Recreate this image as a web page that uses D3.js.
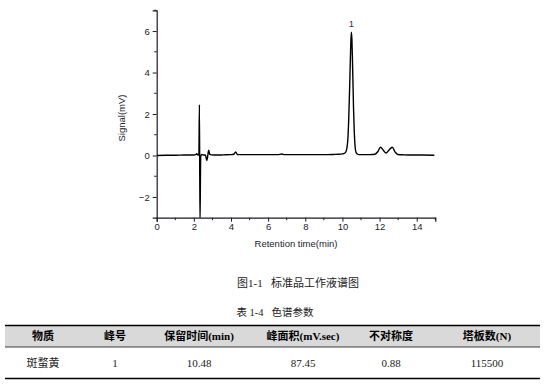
<!DOCTYPE html>
<html><head><meta charset="utf-8">
<script src="https://cdn.jsdelivr.net/npm/d3@7"></script>
<style>
html,body{margin:0;padding:0;background:#fff;}
svg{display:block;}
</style></head>
<body>
<svg id="c" width="545" height="385"></svg>
<script>
// ---- data ----
const times   = [0.0,0.5,1.0,1.5,2.0,2.10,2.15,2.20,2.27,2.30,2.33,2.37,2.42,2.50,2.62,2.70,2.75,2.80,2.86,2.95,3.2,3.6,4.0,4.15,4.25,4.35,4.5,5.0,5.5,6.0,6.5,6.75,6.85,7.2,7.8,8.5,9.0,9.5,9.8,10.0,10.10,10.18,10.25,10.30,10.34,10.38,10.42,10.45,10.48,10.51,10.54,10.57,10.60,10.64,10.68,10.73,10.80,10.90,11.0,11.5,11.75,11.9,12.05,12.2,12.35,12.5,12.68,12.85,12.98,13.3,13.8,14.3,14.95];
const signals = [0.00,0.01,0.01,0.02,0.02,0.04,0.08,0.04,0.02,2.45,-3.3,-0.05,0.05,0.02,0.02,-0.24,0.00,0.26,0.05,0.03,0.02,0.03,0.04,0.06,0.17,0.05,0.04,0.04,0.04,0.04,0.04,0.07,0.04,0.04,0.04,0.04,0.04,0.05,0.06,0.08,0.10,0.17,0.40,0.90,1.80,3.00,4.40,5.40,5.95,5.60,4.60,3.40,2.20,1.10,0.45,0.15,0.07,0.04,0.04,0.04,0.06,0.18,0.40,0.25,0.12,0.25,0.40,0.15,0.05,0.03,0.02,0.02,0.01];
const xTicks = [0,2,4,6,8,10,12,14];
const xMinor = [1,3,5,7,9,11,13,15];
const yTicks = [-2,0,2,4,6];
const yMinor = [-1,1,3,5,7];
const peakLabels = [{t:10.48, v:5.95, label:"1"}];
const xTitle = "Retention time(min)";
const yTitle = "Signal(mV)";
const figCaption = "图1-1\u00a0\u00a0\u00a0标准品工作液谱图";
const tableTitle = "表 1-4\u00a0\u00a0\u00a0色谱参数";
const tableHeaders = ["物质","峰号","保留时间(min)","峰面积(mV.sec)","不对称度","塔板数(N)"];
const tableRow = ["斑蝥黄","1","10.48","87.45","0.88","115500"];

// ---- layout ----
const svg = d3.select("#c");
svg.append("rect").attr("width",545).attr("height",385).attr("fill","#fff");
const L=156.7, R=435.3, T=10.3, B=217.7;
const x = d3.scaleLinear().domain([0,15]).range([L,R]);
const y = d3.scaleLinear().domain([-3,7]).range([B,T]);
const tickFont = "Liberation Sans, Arial, sans-serif";
const ink = "#1b1b2b";

svg.append("clipPath").attr("id","pc").append("rect")
  .attr("x",L).attr("y",T).attr("width",R-L).attr("height",B-T);

// x axis
const gx = svg.append("g").attr("transform",`translate(0,${B})`)
  .call(d3.axisBottom(x).tickValues(xTicks).tickFormat(d3.format("d")).tickSize(4).tickPadding(2));
gx.append("g").selectAll("line").data(xMinor).join("line")
  .attr("x1",d=>x(d)).attr("x2",d=>x(d)).attr("y1",0).attr("y2",2.5).attr("stroke",ink);
// y axis
const gy = svg.append("g").attr("transform",`translate(${L},0)`)
  .call(d3.axisLeft(y).tickValues(yTicks).tickFormat(d3.format("d")).tickSize(4).tickPadding(3));
gy.append("g").selectAll("line").data(yMinor).join("line")
  .attr("y1",d=>y(d)).attr("y2",d=>y(d)).attr("x1",0).attr("x2",-2.5).attr("stroke",ink);
[gx,gy].forEach(g=>{
  g.select(".domain").attr("stroke",ink).attr("stroke-width",1.2);
  g.selectAll(".tick line").attr("stroke",ink);
  g.selectAll("text").attr("font-family",tickFont).attr("font-size",9.5).attr("fill",ink);
});

// titles
svg.append("text").attr("x",(L+R)/2).attr("y",247).attr("text-anchor","middle")
  .attr("font-family",tickFont).attr("font-size",9.5).attr("fill",ink).text(xTitle);
svg.append("text").attr("transform",`translate(125,${(T+B)/2+4}) rotate(-90)`).attr("text-anchor","middle")
  .attr("font-family",tickFont).attr("font-size",9.5).attr("fill",ink).text(yTitle);

// line
const pts = times.map((t,i)=>[t,signals[i]]);
svg.append("path").datum(pts).attr("clip-path","url(#pc)")
  .attr("fill","none").attr("stroke","#000").attr("stroke-width",1.4).attr("stroke-linejoin","round")
  .attr("d", d3.line().x(d=>x(d[0])).y(d=>y(d[1])).curve(d3.curveMonotoneX));

// peak label
svg.selectAll(".pl").data(peakLabels).join("text")
  .attr("x",d=>x(d.t)).attr("y",d=>y(d.v)-5).attr("text-anchor","middle")
  .attr("font-family",tickFont).attr("font-size",9.5).attr("fill","#3a2d4d").text(d=>d.label);

// caption
const serif = "Liberation Serif, 'Times New Roman', 'Noto Sans CJK SC', serif";
svg.append("text").attr("x",298).attr("y",287).attr("text-anchor","middle")
  .attr("font-family",serif).attr("font-size",11).attr("fill","#222").text(figCaption);
svg.append("text").attr("x",275).attr("y",316).attr("text-anchor","middle")
  .attr("font-family",serif).attr("font-size",10.5).attr("fill","#222").text(tableTitle);

// table
const colX = [43,115,199,303,391,487];
const tL=5, tR=540, tTop=325.5, tHead=347, tBot=378.5;
svg.append("rect").attr("x",tL).attr("y",tTop).attr("width",tR-tL).attr("height",tHead-tTop).attr("fill","#d9d9d9");
svg.append("line").attr("x1",tL).attr("x2",tR).attr("y1",tTop).attr("y2",tTop).attr("stroke","#000").attr("stroke-width",1.5);
svg.append("line").attr("x1",tL).attr("x2",tR).attr("y1",tHead).attr("y2",tHead).attr("stroke","#000").attr("stroke-width",0.75);
svg.append("line").attr("x1",tL).attr("x2",tR).attr("y1",tBot).attr("y2",tBot).attr("stroke","#000").attr("stroke-width",1.5);
svg.selectAll(".th").data(tableHeaders).join("text")
  .attr("x",(d,i)=>colX[i]).attr("y",340).attr("text-anchor","middle")
  .attr("font-family",serif).attr("font-weight","bold").attr("font-size",11).attr("fill","#000").text(d=>d);
svg.selectAll(".td").data(tableRow).join("text")
  .attr("x",(d,i)=>colX[i]).attr("y",367).attr("text-anchor","middle")
  .attr("font-family",serif).attr("font-size",11).attr("fill","#222").text(d=>d);
</script>
</body></html>
